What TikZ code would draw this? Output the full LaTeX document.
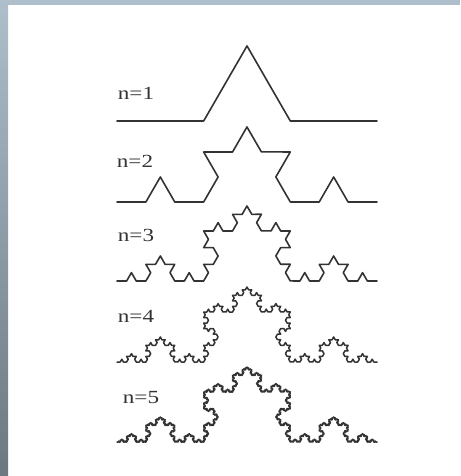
\documentclass[tikz,border=0pt]{standalone}
\usepackage{fontspec}
\setmainfont{Liberation Serif}
\usetikzlibrary{decorations.fractals}
\definecolor{bandtop}{HTML}{AEBFCB}
\definecolor{bandbot}{HTML}{6C7880}
\definecolor{ink}{HTML}{333333}
\begin{document}
\begin{tikzpicture}[x=1pt,y=-1pt,
  koch/.style={draw=ink, line width=1.6pt, line join=round, line cap=round, decoration=Koch snowflake},
  lab/.style={font=\fontsize{18.5}{20}\selectfont, text=ink, draw=ink, line width=0.3pt, xscale=1.25, transform shape, inner sep=0pt, draw opacity=0}]
\useasboundingbox (0,0) rectangle (460,476);
\fill[white] (0,0) rectangle (460,476);
\shade[top color=bandtop, bottom color=bandbot] (0,0) rectangle (8,476);
\fill[bandtop] (0,0) rectangle (460,5);
% endpoints
\coordinate (a1) at (117,121); \coordinate (b1) at (377,121);
\coordinate (a2) at (117,202); \coordinate (b2) at (377,202);
\coordinate (a3) at (117,281); \coordinate (b3) at (377,281);
\coordinate (a4) at (117,362); \coordinate (b4) at (377,362);
\coordinate (a5) at (117,442); \coordinate (b5) at (377,442);
% labels
\node[lab] (l1) at (136,93) {n=1};
\node[lab] (l2) at (135,161) {n=2};
\node[lab] (l3) at (136,235) {n=3};
\node[lab] (l4) at (136,316) {n=4};
\node[lab] (l5) at (141,398) {n=5};
% curves
\path[koch] decorate{ (a1) -- (b1) };
\path[koch] decorate{ decorate{ (a2) -- (b2) } };
\path[koch] decorate{ decorate{ decorate{ (a3) -- (b3) } } };
\path[koch,line width=1.5pt] decorate{ decorate{ decorate{ decorate{ (a4) -- (b4) } } } };
\path[koch,line width=1.5pt] decorate{ decorate{ decorate{ decorate{ decorate{ (a5) -- (b5) } } } } };
\end{tikzpicture}
\end{document}
